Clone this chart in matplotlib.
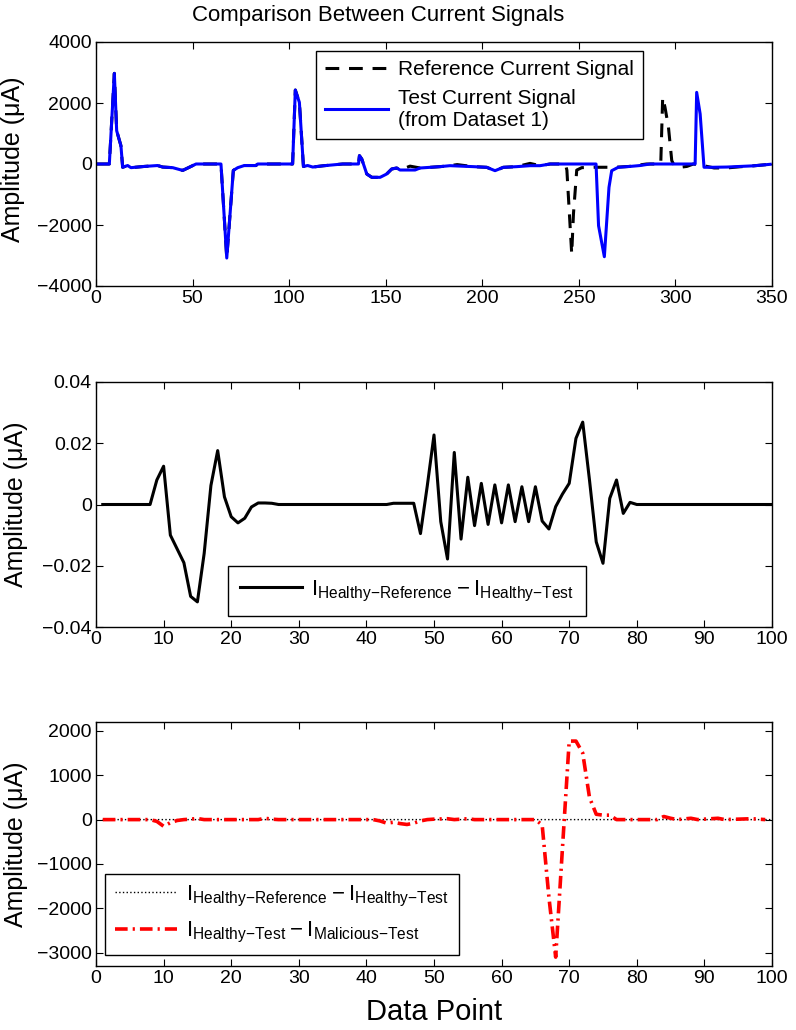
import numpy as np
import matplotlib
matplotlib.use("Agg")
import matplotlib.pyplot as plt

plt.rcParams['font.family'] = ['Liberation Sans', 'DejaVu Sans']
plt.rcParams['mathtext.fontset'] = 'custom'
plt.rcParams['mathtext.rm'] = 'Liberation Sans'
plt.rcParams['mathtext.default'] = 'regular'

# ---- top panel: reference vs test current signal (key points)
ref_x = [0, 6.9, 9.5, 10.7, 12.9, 13.8, 16.4, 18.1, 25, 31.9, 34.5, 39.7, 44.9, 48.3, 51.8,
         64.7, 67.7, 71.1, 73.4, 76.8, 82.8, 83.7, 101.8, 103.2, 105.3, 107.4, 109.6, 112.2,
         117.4, 127.7, 135.9, 136.4, 137.6, 140.2, 142.8, 147.1, 150.5, 153.1, 155.7, 157.4,
         162.6, 167.8, 178.1, 183.3, 187, 195.4, 202.3, 206.6, 210.9, 217.8, 224.7, 229.9,
         235.1, 243.0, 243.8, 246.3, 247.2, 248.9, 251.5, 258, 269, 276, 285, 292.4, 293.4,
         294.6, 296.4, 298.1, 299.0, 302.4, 305.9, 309.3, 315, 320, 326.6, 333.5, 340.4, 349.1]
ref_y = [0, 0, 2972, 1092, 600, -107, -50, -120, -80, -50, -100, -120, -210, -107, 0,
         0, -3083, -210, -120, -50, -50, 0, 0, 2425, 2021, -80, -50, -100,
         -60, 0, 0, 273, 164, -328, -437, -437, -328, -164, -131, -197,
         -70, -131, -87, -55, -20, -87, -109, -219, -109, -87, 20, -55,
         0, 0, -200, -2950, -1640, -200, -120, -107, -107, -80, 0, 0, 2185,
         1860, 1200, 110, 0, -107, -80, 0, -60, -130, -130, -90, -60, -10]

test_x = [0, 6.9, 9.5, 10.7, 12.9, 13.8, 16.4, 18.1, 25, 31.9, 34.5, 39.7, 44.9, 48.3, 51.8,
          64.7, 67.7, 71.1, 73.4, 76.8, 82.8, 83.7, 101.8, 103.2, 105.3, 107.4, 109.6, 112.2,
          117.4, 127.7, 135.9, 136.4, 137.6, 140.2, 142.8, 147.1, 150.5, 153.1, 155.7, 157.4,
          165.2, 167.8, 178.1, 183.3, 195.4, 202.3, 206.6, 210.9, 217.8, 224.7, 229.9, 235.1,
          258.9, 260.2, 263.2, 265.6, 267.0, 270.4, 276.5, 281.7, 286.9, 310.2, 311.0, 312.8,
          314.8, 319.7, 326.6, 333.5, 340.4, 349.1]
test_y = [0, 0, 2972, 1092, 600, -107, -50, -120, -80, -50, -100, -120, -210, -107, 0,
          0, -3083, -210, -120, -50, -50, 0, 0, 2425, 2021, -80, -50, -100,
          -60, 0, 0, 273, 164, -328, -437, -437, -328, -164, -131, -197,
          -197, -131, -87, -55, -87, -109, -219, -109, -87, -55, -55, 0,
          0, -2023, -3040, -765, -220, -107, -80, -50, 0, 0, 2349, 1640,
          -107, -107, -100, -80, -60, -10]

# ---- middle panel: I_healthy-reference - I_healthy-test
diff_x = [1, 8, 9, 10, 11, 12, 13, 14, 15, 16, 17, 18, 19, 20, 21, 22, 23, 24, 25, 26, 27,
          43, 44, 47, 48, 49, 50, 51, 52, 53, 54, 55, 56, 57, 58, 59, 60, 61, 62, 63, 64, 65,
          66, 67, 68, 69, 70, 71, 72, 73, 74, 75, 76, 77, 78, 79, 80, 100]
diff_y = [0, 0, 0.0080, 0.0125, -0.0100, -0.0145, -0.0190, -0.0300, -0.0318, -0.0160,
          0.0062, 0.0176, 0.0025, -0.0040, -0.0060, -0.0045, -0.0008, 0.0005, 0.0005, 0.0004, 0,
          0, 0.0004, 0.0004, -0.0095, 0.0060, 0.0227, -0.0056, -0.0178, 0.0170, -0.0113, 0.0089,
          -0.0069, 0.0069, -0.0065, 0.0064, -0.0060, 0.0064, -0.0056, 0.0058, -0.0056, 0.0058,
          -0.0054, -0.0080, -0.0007, 0.0034, 0.0069, 0.0216, 0.0269, 0.0080, -0.0122, -0.0192,
          0.0020, 0.0080, -0.0029, 0.0007, 0, 0]

# ---- bottom panel: I_healthy-test - I_malicious-test
mal_x = [1, 8, 9, 10, 11, 12, 13, 14, 15, 16, 24, 25, 26, 27, 41, 42, 43, 44, 45, 46, 47, 48,
         49, 50, 52, 53, 55, 56, 65, 66, 67, 68, 69, 70, 71, 72, 73, 74, 75, 76, 77, 83, 84,
         85, 86, 88, 89, 92, 93, 97, 99]
mal_y = [0, 0, -40, -150, -70, -20, 0, 10, 25, 0, 0, 30, 10, 0, 0, -30, -80, -60, -90, -110,
         -80, -30, 0, 10, 20, 0, 20, 0, 0, -120, -1750, -3100, -650, 1770, 1770, 1500, 500,
         120, 100, 100, 0, 0, 70, 30, 0, 30, 0, 30, 0, 20, 0]

MINUS = '\u2212'
LEG1 = '$I_{\\text{Healthy' + MINUS + 'Reference}}-I_{\\text{Healthy' + MINUS + 'Test}}$'
LEG2 = '$I_{\\text{Healthy' + MINUS + 'Test}}-I_{\\text{Malicious' + MINUS + 'Test}}$'

W, H = 796, 1030
fig = plt.figure(figsize=(W / 100, H / 100), dpi=100)


def make_axes(top_px, bottom_px):
    left, right = 96, 772
    ax = fig.add_axes([left / W, 1 - bottom_px / H, (right - left) / W, (bottom_px - top_px) / H])
    ax.tick_params(direction='in', top=True, right=True, length=5, width=0.8,
                   labelsize=14, pad=3)
    for s in ax.spines.values():
        s.set_linewidth(1.0)
    return ax


def style_legend(leg):
    fr = leg.get_frame()
    fr.set_edgecolor('black')
    fr.set_linewidth(1.0)
    fr.set_boxstyle('square', pad=0)


# top
ax1 = make_axes(42, 286)
ax1.plot(ref_x, ref_y, color='black', lw=2.2, dashes=(4.5, 3.2), label='Reference Current Signal')
ax1.plot(test_x, test_y, color='#0000ff', lw=2.2, label='Test Current Signal\n(from Dataset 1)')
ax1.set_xlim(0, 350)
ax1.set_ylim(-4000, 4000)
ax1.set_xticks(np.arange(0, 351, 50))
ax1.set_yticks(np.arange(-4000, 4001, 2000))
ax1.set_ylabel('Amplitude (\u03bcA)', fontsize=18)
ax1.yaxis.set_label_coords(-0.105, 0.52)
leg = ax1.legend(loc='upper left', bbox_to_anchor=(0.325, 0.963), fontsize=15, handlelength=3.0,
                 handletextpad=0.5, borderpad=0.45, labelspacing=0.45, borderaxespad=0,
                 fancybox=False, framealpha=1)
style_legend(leg)
fig.text(378 / W, 1 - 16 / H, 'Comparison Between Current Signals', fontsize=16,
         ha='center', va='center')

# middle
ax2 = make_axes(382, 627)
ax2.plot(diff_x, diff_y, color='black', lw=2.2, label=LEG1)
ax2.set_xlim(0, 100)
ax2.set_ylim(-0.04, 0.04)
ax2.set_xticks(np.arange(0, 101, 10))
ax2.set_yticks(np.arange(-0.04, 0.041, 0.02))
ax2.set_yticklabels(['\u22120.04', '\u22120.02', '0', '0.02', '0.04'])
ax2.set_ylabel('Amplitude (\u03bcA)', fontsize=18)
ax2.yaxis.set_label_coords(-0.1, 0.5)
leg = ax2.legend(loc='lower left', bbox_to_anchor=(0.195, 0.045), fontsize=16, handlelength=2.8,
                 handletextpad=0.4, borderpad=0.55, borderaxespad=0,
                 fancybox=False, framealpha=1)
style_legend(leg)

# bottom
ax3 = make_axes(722, 966)
ax3.plot(diff_x, diff_y, color='black', lw=1.0, linestyle=':', label=LEG1)
ax3.plot(mal_x, mal_y, color='#ff0000', lw=2.6, dashes=(3.5, 1.4, 0.6, 1.4), label=LEG2)
ax3.set_xlim(0, 100)
ax3.set_ylim(-3300, 2200)
ax3.set_xticks(np.arange(0, 101, 10))
ax3.set_yticks(np.arange(-3000, 2001, 1000))
ax3.set_ylabel('Amplitude (\u03bcA)', fontsize=18)
ax3.yaxis.set_label_coords(-0.1, 0.5)
ax3.set_xlabel('Data Point', fontsize=21, labelpad=8)
leg = ax3.legend(loc='lower left', bbox_to_anchor=(0.013, 0.045), fontsize=16, handlelength=2.8,
                 handletextpad=0.4, borderpad=0.45, labelspacing=0.5, borderaxespad=0,
                 fancybox=False, framealpha=1)
style_legend(leg)

fig.savefig('out.png', dpi=100)
